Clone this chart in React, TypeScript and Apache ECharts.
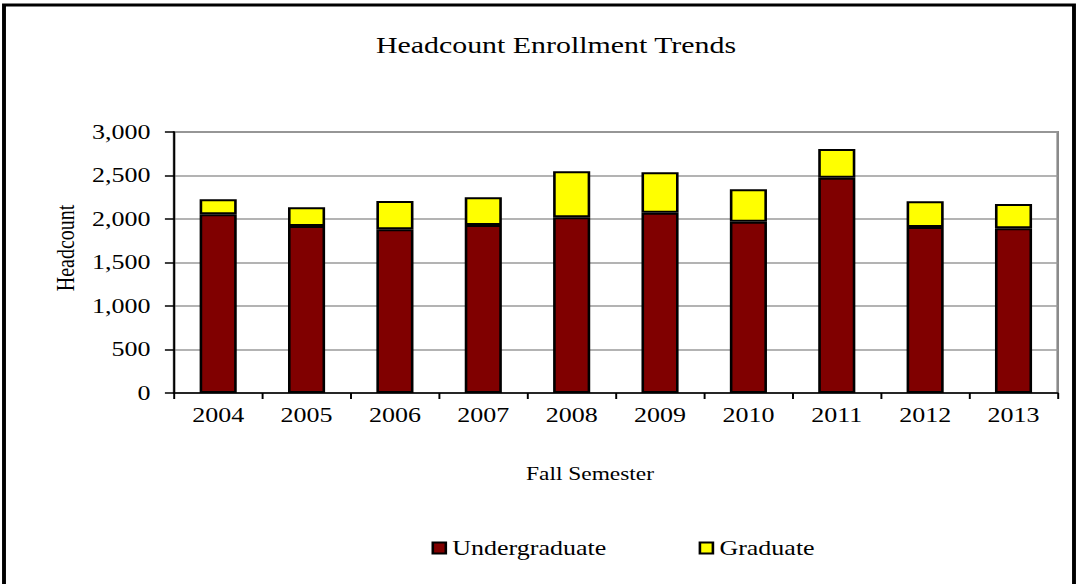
import React, { useEffect, useRef } from "react";
import * as echarts from "echarts";

const years = ["2004", "2005", "2006", "2007", "2008", "2009", "2010", "2011", "2012", "2013"];
const undergraduate = [2054, 1920, 1881, 1931, 2019, 2072, 1969, 2475, 1908, 1893];
const graduate = [172, 214, 326, 318, 529, 464, 372, 330, 295, 279];
const yTicks = { min: 0, max: 3000, interval: 500 };

const SX = 1.3;
const FULL_W = 1078;
const FULL_H = 584;
const W = FULL_W / SX;
const FONT = "'Liberation Serif', 'Times New Roman', serif";

export default function App() {
  const ref = useRef<HTMLDivElement>(null);
  useEffect(() => {
    if (!ref.current) return;
    const chart = echarts.init(ref.current, undefined, { renderer: "svg" });
    const px = (x: number) => x / SX;
    chart.setOption({
      animation: false,
      backgroundColor: "#ffffff",
      textStyle: { fontFamily: FONT, color: "#000" },
      grid: {
        left: px(174),
        right: W - px(1058),
        top: 132,
        bottom: FULL_H - 393,
        show: true,
        borderColor: "#8a8a8a",
        borderWidth: 2,
      },
      legend: {
        left: px(425),
        top: 533,
        itemWidth: 10,
        itemHeight: 11,
        itemGap: 71,
        icon: "rect",
        textStyle: { fontFamily: FONT, fontSize: 20, color: "#000" },
        data: ["Undergraduate", "Graduate"],
      },
      xAxis: {
        type: "category",
        data: years,
        axisLine: { lineStyle: { color: "#000", width: 1.5 } },
        axisTick: { show: true, length: 6, alignWithLabel: false, lineStyle: { color: "#000", width: 1.5 } },
        axisLabel: { fontFamily: FONT, fontSize: 20, color: "#000", margin: 12 },
      },
      yAxis: {
        type: "value",
        min: yTicks.min,
        max: yTicks.max,
        interval: yTicks.interval,
        axisLine: { show: true, lineStyle: { color: "#000", width: 1.5 } },
        axisTick: { show: true, length: 7, lineStyle: { color: "#000", width: 1.5 } },
        axisLabel: {
          fontFamily: FONT,
          fontSize: 20,
          color: "#000",
          margin: 18,
          formatter: (v: number) => v.toLocaleString("en-US"),
        },
        splitLine: { show: true, lineStyle: { color: "#9a9a9a", width: 1.5 } },
      },
      series: [
        {
          name: "Undergraduate",
          type: "bar",
          stack: "total",
          barWidth: "42%",
          data: undergraduate,
          itemStyle: { color: "#800000", borderColor: "#000", borderWidth: 2 },
        },
        {
          name: "Graduate",
          type: "bar",
          stack: "total",
          barWidth: "42%",
          data: graduate,
          itemStyle: { color: "#ffff00", borderColor: "#000", borderWidth: 2 },
        },
      ],
      graphic: [
        {
          type: "rect",
          shape: { x: px(4), y: 5, width: px(1074) - px(4), height: 700 },
          style: { fill: "none", stroke: "#000", lineWidth: 3 },
          z: 100,
        },
        {
          type: "text",
          x: px(556),
          y: 45,
          style: {
            text: "Headcount Enrollment Trends",
            font: `23px ${FONT}`,
            fill: "#000",
            textAlign: "center",
            textVerticalAlign: "middle",
          },
        },
        {
          type: "text",
          x: px(65),
          y: 248,
          rotation: Math.PI / 2,
          style: {
            text: "Headcount",
            font: `20px ${FONT}`,
            fill: "#000",
            textAlign: "center",
            textVerticalAlign: "middle",
          },
        },
        {
          type: "text",
          x: px(590),
          y: 474,
          style: {
            text: "Fall Semester",
            font: `18px ${FONT}`,
            fill: "#000",
            textAlign: "center",
            textVerticalAlign: "middle",
          },
        },
      ],
    });
    return () => chart.dispose();
  }, []);

  return (
    <div
      style={{
        position: "fixed",
        left: 0,
        top: 0,
        width: FULL_W,
        height: FULL_H,
        overflow: "hidden",
        background: "#fff",
      }}
    >
      <div
        ref={ref}
        style={{
          width: W,
          height: FULL_H,
          transform: `scaleX(${SX})`,
          transformOrigin: "0 0",
        }}
      />
    </div>
  );
}
